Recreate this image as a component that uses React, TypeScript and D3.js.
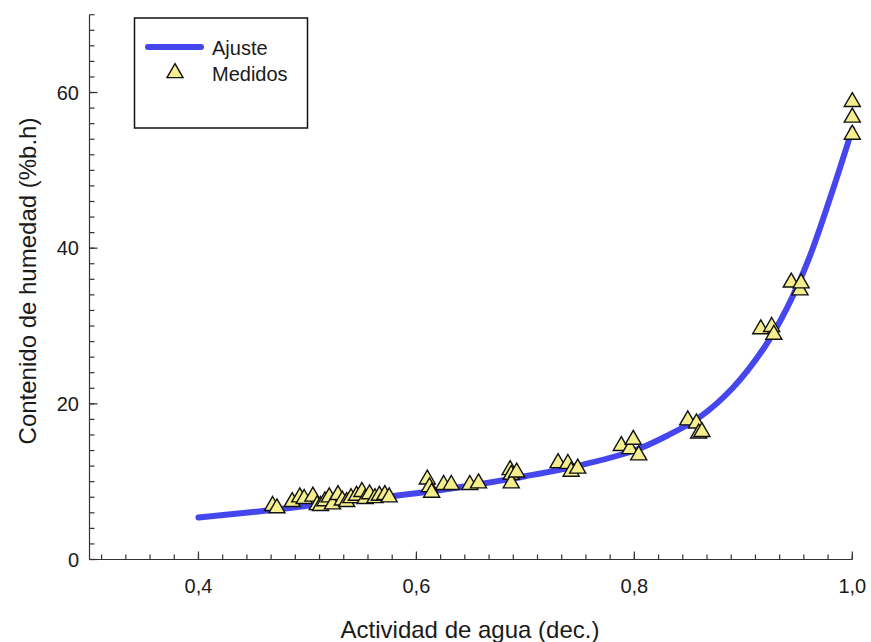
import React from 'react';
import * as d3 from 'd3';

// measured points (water activity, moisture % w.b.)
const measuredAw = [
  0.468, 0.472, 0.486, 0.493, 0.497, 0.505, 0.509, 0.512, 0.516, 0.52, 0.523, 0.528,
  0.532, 0.536, 0.54, 0.545, 0.55, 0.553, 0.557, 0.562, 0.566, 0.571, 0.575,
  0.61, 0.612, 0.614, 0.625, 0.632, 0.649, 0.657,
  0.686, 0.687, 0.687, 0.692, 0.73, 0.739, 0.742, 0.748,
  0.788, 0.796, 0.799, 0.804, 0.849, 0.857, 0.859, 0.862,
  0.916, 0.926, 0.928, 0.944, 0.952, 0.953, 1.0, 1.0, 1.0,
];
const measuredMoisture = [
  6.9, 6.6, 7.4, 8.0, 7.8, 8.1, 7.0, 6.9, 7.5, 8.0, 7.1, 8.3,
  7.6, 7.4, 7.9, 8.2, 8.7, 7.8, 8.4, 7.9, 8.2, 8.3, 8.0,
  10.3, 9.3, 8.6, 9.6, 9.6, 9.6, 9.8,
  11.5, 10.9, 9.8, 11.2, 12.4, 12.3, 11.3, 11.7,
  14.6, 14.2, 15.4, 13.4, 17.9, 17.5, 16.2, 16.4,
  29.6, 29.9, 28.9, 35.6, 34.6, 35.5, 58.8, 56.8, 54.6,
];

// fitted curve
const fitAw = [0.4, 0.45, 0.5, 0.55, 0.6, 0.65, 0.7, 0.75, 0.8, 0.83, 0.86, 0.89, 0.92, 0.94, 0.96, 0.98, 1.0];
const fitMoisture = [5.4, 6.1, 6.9, 7.7, 8.5, 9.5, 10.7, 12.1, 14.0, 15.9, 18.3, 22.0, 27.4, 32.3, 38.6, 46.6, 55.3];

const xTickValues = [0.4, 0.6, 0.8, 1.0];
const xTickLabels = ['0,4', '0,6', '0,8', '1,0'];
const yTickValues = [0, 20, 40, 60];
const yTickLabels = ['0', '20', '40', '60'];

const FONT = '"Liberation Sans", Arial, sans-serif';
const BLUE = '#4646ee';
const YELLOW = '#f4ef8c';

export default function App() {
  const width = 871;
  const height = 642;
  const x = d3.scaleLinear().domain([0.3, 1.0]).range([89.5, 852.3]);
  const y = d3.scaleLinear().domain([0, 70]).range([559.5, 14.7]);

  const line = d3
    .line<number>()
    .x((d) => x(d))
    .y((_, i) => y(fitMoisture[i]))
    .curve(d3.curveCatmullRom.alpha(0.5));

  const tri = d3.symbol(d3.symbolTriangle, 112)();

  // minor ticks: x every 0.2/9 anchored on 0.4, y every 2
  const xMinor: number[] = [];
  for (let k = -4; k <= 27; k++) xMinor.push(0.4 + (k * 0.2) / 9);
  const yMinor = d3.range(0, 71, 2);

  return (
    <svg
      width={width}
      height={height}
      style={{ position: 'absolute', left: 0, top: 0, background: '#fff' }}
      fontFamily={FONT}
    >
      {/* axes */}
      <g stroke="#333" strokeWidth={1.2} fill="none">
        <line x1={x(0.3)} x2={x(1.0)} y1={y(0)} y2={y(0)} />
        <line x1={x(0.3)} x2={x(0.3)} y1={y(0)} y2={y(70)} />
        {xMinor.map((v, i) => (
          <line key={'xm' + i} x1={x(v)} x2={x(v)} y1={y(0)} y2={y(0) - 5} />
        ))}
        {xTickValues.map((v) => (
          <line key={'xM' + v} x1={x(v)} x2={x(v)} y1={y(0)} y2={y(0) - 8} />
        ))}
        {yMinor.map((v) => (
          <line key={'ym' + v} x1={x(0.3)} x2={x(0.3) + 5} y1={y(v)} y2={y(v)} />
        ))}
        {yTickValues.map((v) => (
          <line key={'yM' + v} x1={x(0.3)} x2={x(0.3) + 8} y1={y(v)} y2={y(v)} />
        ))}
      </g>
      <g fontSize={20} fill="#1a1a1a">
        {xTickValues.map((v, i) => (
          <text key={'xl' + v} x={x(v)} y={593} textAnchor="middle">
            {xTickLabels[i]}
          </text>
        ))}
        {yTickValues.map((v, i) => (
          <text key={'yl' + v} x={79} y={y(v)} dy="0.36em" textAnchor="end">
            {yTickLabels[i]}
          </text>
        ))}
      </g>
      <text x={470} y={638} fontSize={24} textAnchor="middle" fill="#1a1a1a">
        Actividad de agua (dec.)
      </text>
      <text
        transform={`translate(36, 281) rotate(-90)`}
        fontSize={24}
        textAnchor="middle"
        fill="#1a1a1a"
      >
        Contenido de humedad (%b.h)
      </text>

      {/* fitted curve */}
      <path d={line(fitAw) || ''} fill="none" stroke={BLUE} strokeWidth={6} strokeLinecap="round" />

      {/* measured points */}
      <g fill={YELLOW} stroke="#111" strokeWidth={1.4} strokeLinejoin="miter">
        {measuredAw.map((a, i) => (
          <path key={'p' + i} d={tri || ''} transform={`translate(${x(a)},${y(measuredMoisture[i])})`} />
        ))}
      </g>

      {/* legend */}
      <rect x={134.5} y={18} width={173} height={110} fill="#fff" stroke="#111" strokeWidth={1.5} />
      <line x1={148} x2={201} y1={47} y2={47} stroke={BLUE} strokeWidth={6} strokeLinecap="round" />
      <path d={tri || ''} transform="translate(175,73)" fill={YELLOW} stroke="#111" strokeWidth={1.4} />
      <text x={212} y={55} fontSize={20} fill="#1a1a1a">Ajuste</text>
      <text x={212} y={81} fontSize={20} fill="#1a1a1a">Medidos</text>
    </svg>
  );
}
